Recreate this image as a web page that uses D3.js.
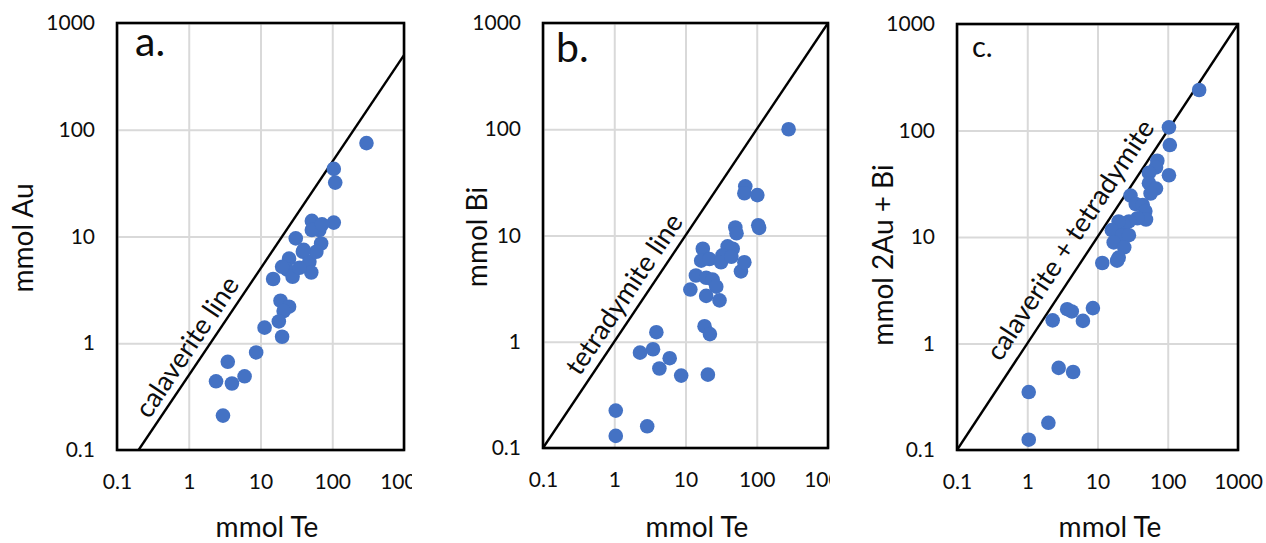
<!DOCTYPE html>
<html>
<head>
<meta charset="utf-8">
<script src="https://cdn.jsdelivr.net/npm/d3@7"></script>
<style>
  html, body { margin: 0; padding: 0; background: #fff; }
  svg { display: block; font-family: Lato, "Open Sans", sans-serif; }
</style>
</head>
<body>
<svg id="chart" width="1266" height="543"></svg>
<script>
// ---------- data ----------
const tickValues = [0.1, 1, 10, 100, 1000];
const tickLabels = ["0.1", "1", "10", "100", "1000"];

// panel a: mmol Te vs mmol Au
const teA = [300, 105, 110, 105, 52, 66, 52, 72, 70, 31, 15, 25, 23.5, 28, 39, 48, 51, 60, 35, 20, 40, 19, 25, 21, 18, 11.4, 20, 8.7, 3.5, 6, 2.4, 4, 3];
const auA = [75, 43, 32, 13.5, 14, 11.5, 11.5, 13, 8.6, 9.6, 4, 6.2, 4.9, 4.2, 7.2, 5.8, 4.6, 7.2, 5.1, 5.2, 7.5, 2.5, 2.2, 2.0, 1.6, 1.4, 1.15, 0.82, 0.67, 0.49, 0.44, 0.42, 0.21];

// panel b: mmol Te vs mmol Bi
const teB = [280, 69, 67, 102, 105, 108, 50, 52, 17.5, 39, 46, 16.6, 21.7, 33, 31.5, 44, 60, 67, 14, 19.5, 24, 27, 11.7, 19.5, 30, 18.5, 22, 3.9, 2.3, 3.5, 6, 4.3, 8.7, 20.6, 1.05, 1.05, 2.9];
const biB = [100, 29, 25, 24, 12.5, 11.8, 11.9, 10.5, 7.5, 7.9, 7.5, 5.8, 6.0, 6.5, 5.6, 6.3, 4.6, 5.6, 4.2, 4.0, 3.85, 3.3, 3.1, 2.7, 2.45, 1.4, 1.18, 1.23, 0.79, 0.85, 0.70, 0.56, 0.48, 0.49, 0.225, 0.13, 0.16];

// panel c: mmol Te vs mmol 2Au + Bi
const teC = [280, 104, 107, 104, 71, 68, 54, 54, 68, 57, 29.5, 35, 44, 48, 49, 37, 28, 23.7, 20, 16, 22.4, 28, 17, 24, 20, 19, 11.7, 8.6, 3.7, 4.3, 2.3, 6.2, 2.8, 4.5, 1.05, 2.0, 1.05];
const sumC = [240, 107, 73, 38, 52, 45, 40, 32, 28.5, 25.6, 24.5, 20.4, 20, 17.5, 14.6, 15, 14, 13, 14, 11.6, 10.4, 10.4, 8.9, 8, 6.4, 6, 5.7, 2.15, 2.1, 2.0, 1.65, 1.63, 0.59, 0.54, 0.35, 0.18, 0.125];

// reference lines (Te, y)
const lineA = [[0.2, 0.1], [1000, 500]];   // calaverite AuTe2
const lineB = [[0.1, 0.1], [1000, 1000]];  // tetradymite
const lineC = [[0.1, 0.1], [1000, 1000]];

// ---------- layout ----------
const panels = [
  { key: "a", label: "a.", xs: teA, ys: auA, line: lineA, lineText: "calaverite line", lineAt: 1.5, lineDy: -8,
    left: 117, right: 404, top: 23, bottom: 450, clip: [0, 412],
    yTitle: "mmol Au", yTitleX: 33, yTitleY: 238, xTitleX: 267,
    labelX: 135, labelY: 56, labelSize: 41 },
  { key: "b", label: "b.", xs: teB, ys: biB, line: lineB, lineText: "tetradymite line", lineAt: 2.25, lineDy: -9,
    left: 543, right: 828, top: 23, bottom: 448, clip: [420, 830],
    yTitle: "mmol Bi", yTitleX: 487, yTitleY: 237, xTitleX: 697,
    labelX: 556, labelY: 62, labelSize: 41 },
  { key: "c", label: "c.", xs: teC, ys: sumC, line: lineC, lineText: "calaverite + tetradymite", lineAt: 7.3, lineDy: -12,
    left: 957, right: 1238, top: 24, bottom: 450, clip: null,
    yTitle: "mmol 2Au + Bi", yTitleX: 893, yTitleY: 255, xTitleX: 1110,
    labelX: 972, labelY: 57, labelSize: 29 }
];

const svg = d3.select("#chart");
const defs = svg.append("defs");
const dotColor = "#4472C4";
const textColor = "#0d0d0d";

panels.forEach(p => {
  let g = svg.append("g");
  if (p.clip) {
    defs.append("clipPath").attr("id", "clip-" + p.key)
      .append("rect").attr("x", p.clip[0]).attr("y", 0).attr("width", p.clip[1] - p.clip[0]).attr("height", 543);
    g.attr("clip-path", "url(#clip-" + p.key + ")");
  }
  const x = d3.scaleLog().domain([0.1, 1000]).range([p.left, p.right]);
  const y = d3.scaleLog().domain([0.1, 1000]).range([p.bottom, p.top]);
  const w = p.right - p.left, h = p.bottom - p.top;

  // gridlines
  g.append("g").attr("transform", `translate(0,${p.bottom})`)
    .call(d3.axisBottom(x).tickValues(tickValues).tickSize(-h).tickFormat(""))
    .call(s => s.select(".domain").remove())
    .call(s => s.selectAll("line").attr("stroke", "#d9d9d9").attr("stroke-width", 2));
  g.append("g").attr("transform", `translate(${p.left},0)`)
    .call(d3.axisLeft(y).tickValues(tickValues).tickSize(-w).tickFormat(""))
    .call(s => s.select(".domain").remove())
    .call(s => s.selectAll("line").attr("stroke", "#d9d9d9").attr("stroke-width", 2));

  // tick labels
  const xa = g.append("g").attr("transform", `translate(0,${p.bottom})`)
    .call(d3.axisBottom(x).tickValues(tickValues).tickSize(0).tickPadding(24)
      .tickFormat((d, i) => tickLabels[i]));
  xa.select(".domain").remove();
  xa.selectAll("text").attr("font-size", 21).attr("font-family", "Lato, sans-serif").attr("fill", textColor);
  const ya = g.append("g").attr("transform", `translate(${p.left},0)`)
    .call(d3.axisLeft(y).tickValues(tickValues).tickSize(0).tickPadding(22)
      .tickFormat((d, i) => tickLabels[i]));
  ya.select(".domain").remove();
  ya.selectAll("text").attr("font-size", 21).attr("font-family", "Lato, sans-serif").attr("fill", textColor);

  // plot clip
  defs.append("clipPath").attr("id", "plot-" + p.key)
    .append("rect").attr("x", p.left).attr("y", p.top).attr("width", w).attr("height", h);

  // reference line
  g.append("path").datum(p.line)
    .attr("clip-path", "url(#plot-" + p.key + ")")
    .attr("d", d3.line().x(d => x(d[0])).y(d => y(d[1])))
    .attr("stroke", "#000").attr("stroke-width", 2.4).attr("fill", "none");

  // dots
  g.append("g").selectAll("circle").data(p.xs.map((v, i) => [v, p.ys[i]])).join("circle")
    .attr("cx", d => x(d[0])).attr("cy", d => y(d[1])).attr("r", 7.3)
    .attr("fill", dotColor);

  // line label
  const ratio = p.line[1][1] / p.line[1][0];
  const px = x(p.lineAt), py = y(p.lineAt * ratio);
  const ang = Math.atan2(y(10) - y(100), x(100) - x(10)) * 180 / Math.PI;
  g.append("text")
    .attr("transform", `translate(${px},${py}) rotate(${-ang})`)
    .attr("dy", p.lineDy).attr("text-anchor", "middle")
    .attr("font-size", 27).attr("fill", textColor).text(p.lineText);

  // border
  g.append("rect").attr("x", p.left).attr("y", p.top).attr("width", w).attr("height", h)
    .attr("fill", "none").attr("stroke", "#000").attr("stroke-width", 2.6);

  // panel label
  g.append("text").attr("x", p.labelX).attr("y", p.labelY)
    .attr("font-size", p.labelSize).attr("fill", textColor).text(p.label);

  // axis titles
  g.append("text").attr("x", p.xTitleX).attr("y", 537).attr("text-anchor", "middle")
    .attr("font-size", 28).attr("fill", textColor).text("mmol Te");
  g.append("text").attr("transform", `translate(${p.yTitleX},${p.yTitleY}) rotate(-90)`)
    .attr("text-anchor", "middle").attr("font-size", 28).attr("fill", textColor).text(p.yTitle);
});
</script>
</body>
</html>
